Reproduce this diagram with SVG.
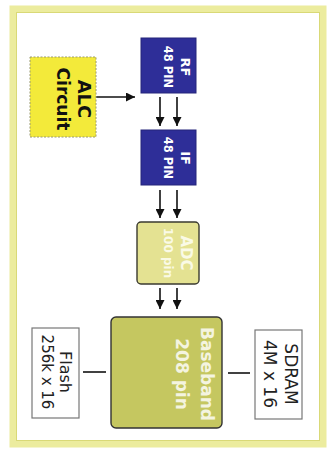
<svg xmlns="http://www.w3.org/2000/svg" width="327" height="451" viewBox="0 0 327 451">
<defs>
<marker id="ah" markerWidth="9" markerHeight="9" refX="9" refY="4.5" orient="auto" markerUnits="userSpaceOnUse"><path d="M0,0 L9,4.5 L0,9 z" fill="#111"/></marker>
<style>
.b{font-family:"DejaVu Sans",Verdana,sans-serif;font-weight:bold;text-anchor:middle}
.r{font-family:"DejaVu Sans",Verdana,sans-serif;text-anchor:middle;fill:#222}
.w{fill:#ffffff}
.blue{fill:#2e2e98;stroke:#25257a;stroke-width:1}
.mem{fill:#ffffff;stroke:#777;stroke-width:1.2}
.conn{stroke:#111;stroke-width:1.6;fill:none}
</style>
</defs>
<rect x="0" y="0" width="327" height="451" fill="#ffffff"/>
<rect x="13" y="9" width="310" height="435" fill="none" stroke="#ecec9e" stroke-width="7"/>
<rect x="16.5" y="12.5" width="303" height="428" fill="none" stroke="#d9d977" stroke-width="1"/>

<g id="connectors">
<line class="conn" x1="96" y1="97" x2="135" y2="97" marker-end="url(#ah)"/>
<line class="conn" x1="160" y1="97" x2="160" y2="126" marker-end="url(#ah)"/>
<line class="conn" x1="177" y1="97" x2="177" y2="126" marker-end="url(#ah)"/>
<line class="conn" x1="160" y1="190" x2="160" y2="218" marker-end="url(#ah)"/>
<line class="conn" x1="177" y1="190" x2="177" y2="218" marker-end="url(#ah)"/>
<line class="conn" x1="160" y1="288" x2="160" y2="309" marker-end="url(#ah)"/>
<line class="conn" x1="177" y1="288" x2="177" y2="309" marker-end="url(#ah)"/>
<line class="conn" x1="83" y1="372" x2="106" y2="372"/>
<line class="conn" x1="228" y1="373" x2="250" y2="373"/>
</g>

<g id="alc">
<rect x="30" y="57" width="66" height="80" fill="#f3ea3a" stroke="#9a9a70" stroke-width="1" stroke-dasharray="2,1.5"/>
<g transform="translate(63,99) rotate(90)">
<text class="b" x="0" y="-15" font-size="18" fill="#111">ALC</text>
<text class="b" x="0" y="6" font-size="17" fill="#111">Circuit</text>
</g>
</g>

<g id="rf">
<rect class="blue" x="141" y="38" width="55" height="55"/>
<g transform="translate(168.5,67) rotate(90)">
<text class="b w" x="0" y="-12.5" font-size="13">RF</text>
<text class="b w" x="0" y="4.5" font-size="11.5">48 PIN</text>
</g>
</g>

<g id="if">
<rect class="blue" x="141" y="130" width="55" height="55"/>
<g transform="translate(168.5,158) rotate(90)">
<text class="b w" x="0" y="-12.5" font-size="13">IF</text>
<text class="b w" x="0" y="4.5" font-size="11.5">48 PIN</text>
</g>
</g>

<g id="adc">
<rect x="137" y="222" width="62" height="62" rx="4" fill="#e4e292" stroke="#3a3a30" stroke-width="1.4"/>
<g transform="translate(168,253) rotate(90)">
<text class="b" x="0" y="-13" font-size="15" fill="#fafae6">ADC</text>
<text class="b" x="0" y="4" font-size="12" fill="#fafae6">100 pin</text>
</g>
</g>

<g id="baseband">
<rect x="111" y="317" width="111" height="111" rx="5" fill="#c5c760" stroke="#333" stroke-width="1.4"/>
<g transform="translate(166.5,374) rotate(90)">
<text class="b" x="0" y="-34.5" font-size="17" fill="#f4f4e0">Baseband</text>
<text class="b" x="0" y="-9.5" font-size="17" fill="#f4f4e0">208 pin</text>
</g>
</g>

<g id="flash">
<rect class="mem" x="32" y="328" width="47" height="90"/>
<g transform="translate(55.5,372) rotate(90)">
<text class="r" x="0" y="-4.5" font-size="16">Flash</text>
<text class="r" x="0" y="13.5" font-size="15">256k x 16</text>
</g>
</g>

<g id="sdram">
<rect class="mem" x="255" y="330" width="47" height="89"/>
<g transform="translate(278.5,374) rotate(90)">
<text class="r" x="0" y="-6.5" font-size="17">SDRAM</text>
<text class="r" x="0" y="14.5" font-size="17">4M x 16</text>
</g>
</g>
</svg>
